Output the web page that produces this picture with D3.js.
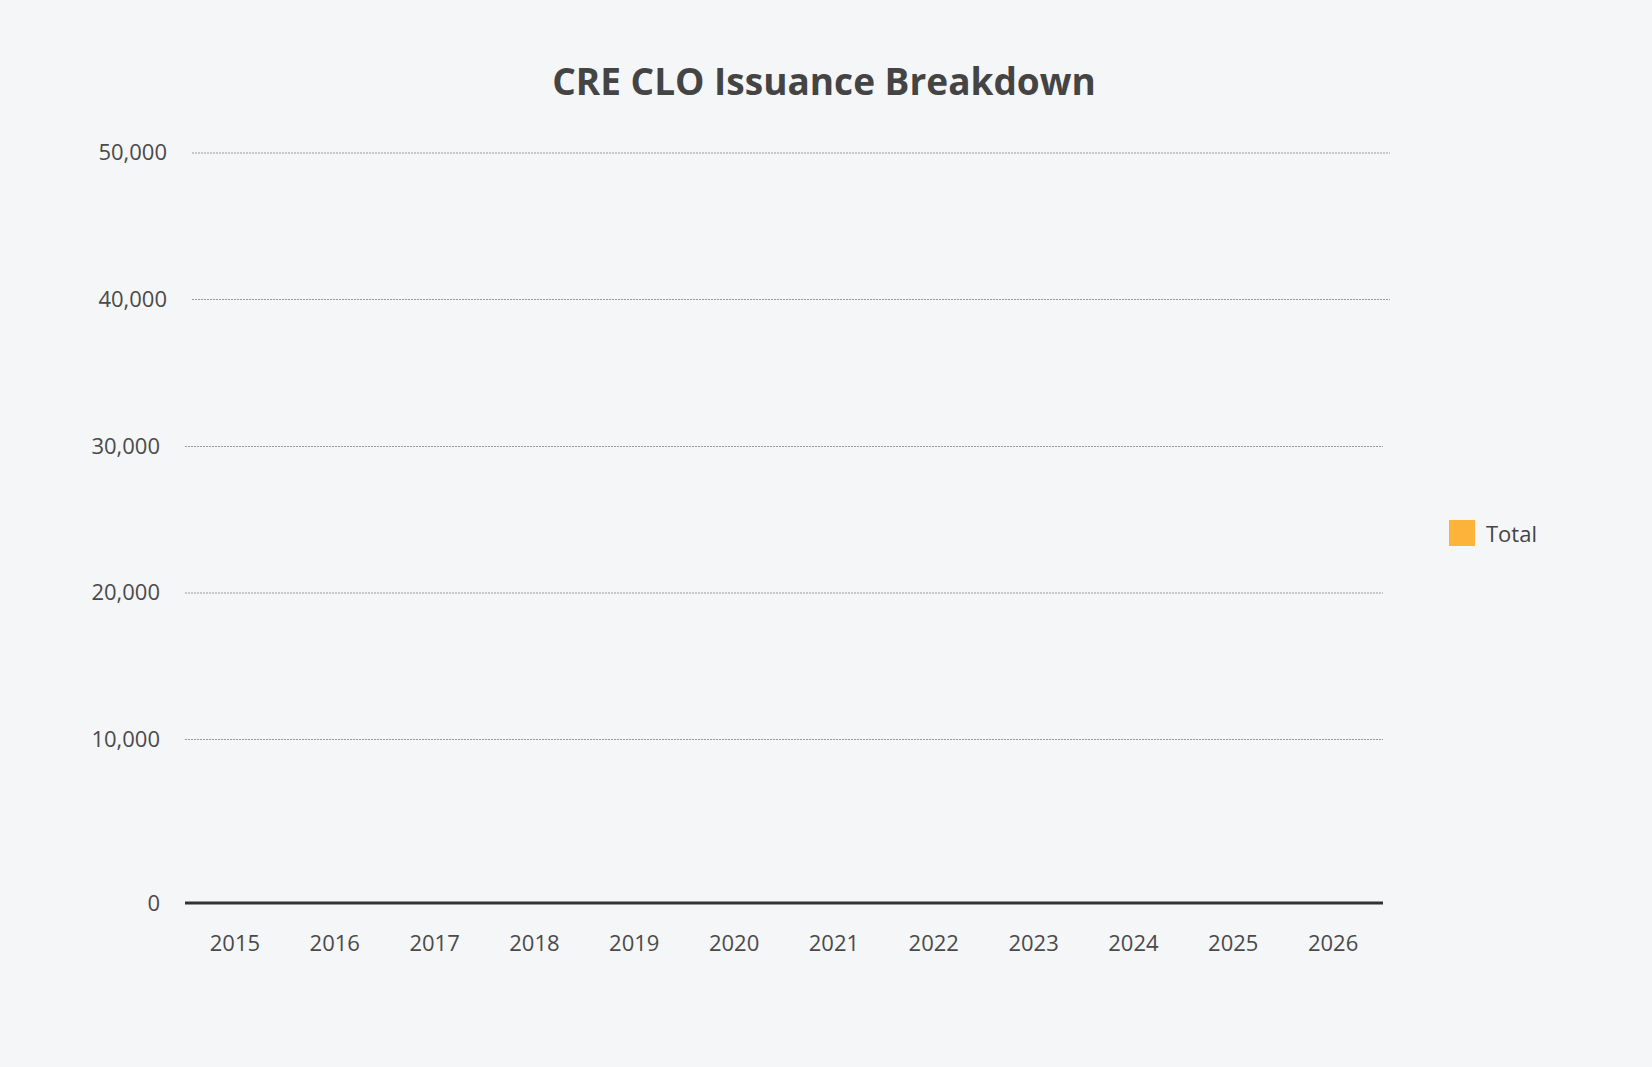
<!DOCTYPE html>
<html>
<head>
<meta charset="utf-8">
<script src="https://cdn.jsdelivr.net/npm/d3@7"></script>
<style>
  html, body { margin: 0; padding: 0; background: #f5f6f8; }
  svg { display: block; font-family: "Open Sans", "Noto Sans", sans-serif; }
</style>
</head>
<body>
<div class="canvas"></div>
<script>
var w = 1652;
var h = 1067;

// data
var years = ["2015", "2016", "2017", "2018", "2019", "2020", "2021", "2022", "2023", "2024", "2025", "2026"];
var totals = [0, 0, 0, 0, 0, 0, 0, 0, 0, 0, 0, 0];
var yTicks = [0, 10000, 20000, 30000, 40000, 50000];
var seriesNames = ["Total"];
var seriesColors = ["#fcb33a"];

var svg = d3.select(".canvas").append("svg")
    .attr("width", w)
    .attr("height", h);

svg.append("rect")
    .attr("width", w)
    .attr("height", h)
    .attr("fill", "#f5f6f8");

var xScale = d3.scaleBand()
    .domain(years)
    .range([185, 1383])
    .paddingInner(0.25)
    .paddingOuter(0.125);

// the zero line sits a bit lower than the even grid spacing above it
var yScale = d3.scaleLinear()
    .domain([0, 10000, 50000])
    .range([903, 739, 153]);

// title
svg.append("text")
    .attr("x", 824)
    .attr("y", 95)
    .attr("text-anchor", "middle")
    .attr("font-size", "37px")
    .attr("font-weight", "bold")
    .attr("fill", "#444")
    .text("CRE CLO Issuance Breakdown");

// grid + y labels
var yAxis = d3.axisLeft(yScale)
    .tickValues(yTicks)
    .tickSize(0)
    .tickPadding(25)
    .tickFormat(d3.format(","));

var gy = svg.append("g")
    .attr("transform", "translate(185,0)")
    .call(yAxis);
gy.select(".domain").remove();
gy.selectAll("text")
    .attr("font-size", "22px")
    .attr("fill", "#4a4a4a")
    .attr("font-family", "Open Sans, sans-serif");

gy.selectAll(".tick")
    .filter(function(d) { return d > 0; })
    .append("line")
    .attr("x1", 0)
    .attr("x2", 1383 - 185)
    .attr("stroke", "#9a9a9a")
    .attr("stroke-width", 1)
    .attr("stroke-dasharray", "2,1");

// top two ticks drawn slightly shifted, as in the picture
gy.selectAll(".tick")
    .filter(function(d) { return d >= 40000; })
    .attr("transform", function(d) { return "translate(7," + yScale(d) + ")"; });

// bars (all zero)
svg.append("g")
    .selectAll("rect")
    .data(totals)
    .enter().append("rect")
    .attr("x", function(d, i) { return xScale(years[i]); })
    .attr("width", xScale.bandwidth())
    .attr("y", function(d) { return yScale(d); })
    .attr("height", function(d) { return yScale(0) - yScale(d); })
    .attr("fill", seriesColors[0]);

// x axis
var xAxis = d3.axisBottom(xScale)
    .tickSize(0)
    .tickPadding(32);

var gx = svg.append("g")
    .attr("transform", "translate(0," + yScale(0) + ")")
    .call(xAxis);
gx.select(".domain").remove();
gx.selectAll("text")
    .attr("font-size", "22px")
    .attr("fill", "#4a4a4a")
    .attr("font-family", "Open Sans, sans-serif");

svg.append("line")
    .attr("x1", xScale.range()[0])
    .attr("x2", xScale.range()[1])
    .attr("y1", yScale(0))
    .attr("y2", yScale(0))
    .attr("stroke", "#333")
    .attr("stroke-width", 3);

// legend
var legend = svg.append("g")
    .selectAll("g")
    .data(seriesNames)
    .enter().append("g")
    .attr("transform", "translate(1449,520)");

legend.append("rect")
    .attr("width", 26)
    .attr("height", 26)
    .attr("fill", function(d, i) { return seriesColors[i]; });

legend.append("text")
    .attr("x", 37)
    .attr("y", 22)
    .attr("font-size", "22px")
    .attr("fill", "#444")
    .text(function(d) { return d; });
</script>
</body>
</html>
